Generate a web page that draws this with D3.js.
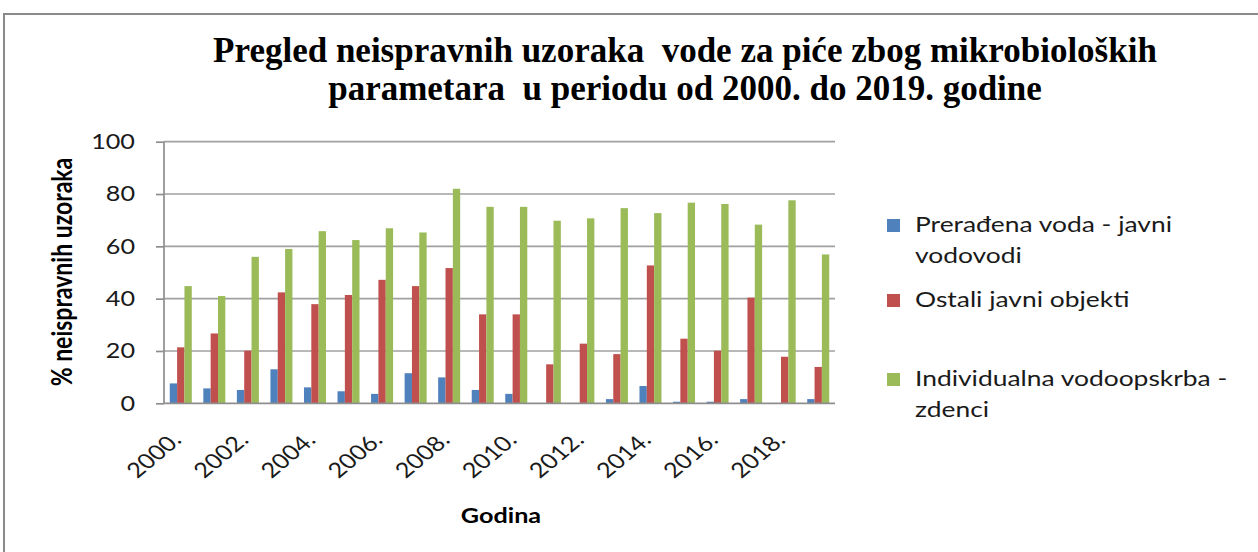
<!DOCTYPE html>
<html>
<head>
<meta charset="utf-8">
<script src="https://cdn.jsdelivr.net/npm/d3@7"></script>
<style>
  html, body { margin: 0; padding: 0; background: #ffffff; }
  svg { display: block; }
</style>
</head>
<body>
<svg id="chart" width="1258" height="552"></svg>
<script>
// Godine (kategorije na osi x)
const years = ["2000.", "2001.", "2002.", "2003.", "2004.", "2005.", "2006.", "2007.", "2008.", "2009.",
               "2010.", "2011.", "2012.", "2013.", "2014.", "2015.", "2016.", "2017.", "2018.", "2019."];
// Oznake koje se ispisuju ispod osi (svaka druga godina)
const xTickLabels = ["2000.", "2002.", "2004.", "2006.", "2008.", "2010.", "2012.", "2014.", "2016.", "2018."];
const yTicks = [0, 20, 40, 60, 80, 100];

// % neispravnih uzoraka po skupinama
const javniVodovodi = [7.6, 5.7, 5.1, 13.0, 6.1, 4.6, 3.6, 11.5, 9.9, 5.1,
                       3.6, 0, 0, 1.6, 6.6, 0.6, 0.6, 1.6, 0, 1.6];
const ostaliObjekti = [21.4, 26.7, 20.1, 42.4, 37.9, 41.4, 47.2, 44.8, 51.7, 34.0,
                       34.0, 14.9, 22.8, 18.8, 52.7, 24.7, 20.1, 40.4, 17.8, 13.9];
const zdenci        = [44.8, 41.0, 56.0, 59.0, 65.8, 62.4, 66.9, 65.3, 82.0, 75.1,
                       75.1, 69.8, 70.7, 74.6, 72.7, 76.7, 76.2, 68.3, 77.6, 56.9];

const seriesKeys = ["vodovodi", "ostali", "zdenci"];
const seriesValues = [javniVodovodi, ostaliObjekti, zdenci];
const legendLines = [
  ["Prerađena voda - javni", "vodovodi"],
  ["Ostali javni objekti"],
  ["Individualna vodoopskrba -", "zdenci"]
];
const seriesColors = ["#4F81BD", "#C0504D", "#9BBB59"];

const titleLines = ["Pregled neispravnih uzoraka  vode za piće zbog mikrobioloških",
                    "parametara  u periodu od 2000. do 2019. godine"];

// ---- layout ----
const SX = 1.2;                    // horizontal stretch of the sans-serif labels
const sansFont = "Lato, 'Open Sans', sans-serif";
const plot = { left: 164, right: 835, top: 141.7, bottom: 403.3 };
const axisColor = "#8e8e8e";

const svg = d3.select("#chart");
svg.append("rect").attr("width", 1258).attr("height", 552).attr("fill", "#ffffff");

// outer frame of the chart object
svg.append("rect")
  .attr("x", 4).attr("y", 14).attr("width", 1300).attr("height", 600)
  .attr("fill", "none").attr("stroke", "#8a8a8a").attr("stroke-width", 2);

// title
svg.append("g").selectAll("text").data(titleLines).join("text")
  .attr("x", 685).attr("y", (d, i) => 62 + i * 38)
  .attr("text-anchor", "middle")
  .style("white-space", "pre")
  .attr("font-family", "'Liberation Serif', 'Times New Roman', serif")
  .attr("font-weight", "bold")
  .attr("font-size", 35)
  .attr("fill", "#000")
  .text(d => d);

// scales
const x0 = d3.scaleBand().domain(years).range([plot.left, plot.right])
  .paddingInner(0.344).paddingOuter(0.172);
const x1 = d3.scaleBand().domain(seriesKeys).range([0, x0.bandwidth()]).padding(0);
const y = d3.scaleLinear().domain([0, 100]).range([plot.bottom, plot.top]);

// gridlines
svg.append("g").selectAll("line").data(yTicks.filter(t => t > 0)).join("line")
  .attr("x1", plot.left).attr("x2", plot.right)
  .attr("y1", d => y(d)).attr("y2", d => y(d))
  .attr("stroke", "#a0a0a0").attr("stroke-width", 1.7);

// bars
const rows = years.map((yr, i) => ({ yr, vals: seriesKeys.map((k, s) => ({ k, s, v: seriesValues[s][i] })) }));
svg.append("g").selectAll("g").data(rows).join("g")
  .attr("transform", d => `translate(${x0(d.yr)},0)`)
  .selectAll("rect").data(d => d.vals).join("rect")
  .attr("x", d => x1(d.k))
  .attr("width", x1.bandwidth())
  .attr("y", d => y(d.v))
  .attr("height", d => y(0) - y(d.v))
  .attr("fill", d => seriesColors[d.s]);

// y axis
const yAxis = d3.axisLeft(y).tickValues(yTicks).tickSize(8).tickPadding(21).tickFormat(d3.format("d"));
const gy = svg.append("g").attr("transform", `translate(${plot.left},0)`).call(yAxis);
gy.select(".domain").attr("stroke", axisColor).attr("stroke-width", 1.7).attr("d", `M0,${plot.top}V${plot.bottom}`);
gy.selectAll(".tick line").attr("stroke", axisColor).attr("stroke-width", 1.7);
gy.selectAll(".tick text")
  .attr("font-family", sansFont).attr("font-size", 21).attr("fill", "#1a1a1a")
  .attr("transform", function () { return `translate(${this.getAttribute("x")},0) scale(${SX},1)`; })
  .attr("x", 0);

// x axis baseline
const xAxis = d3.axisBottom(x0).tickValues(xTickLabels).tickSize(0).tickFormat(d => d);
const gx = svg.append("g").attr("transform", `translate(0,${plot.bottom})`).call(xAxis);
gx.select(".domain").attr("stroke", axisColor).attr("stroke-width", 1.7)
  .attr("d", `M${plot.left},0H${plot.right}`);
gx.selectAll(".tick")
  .attr("transform", d => `translate(${x0(d) + x0.bandwidth() / 2 + 2},0)`);
gx.selectAll(".tick text")
  .attr("font-family", sansFont).attr("font-size", 21).attr("fill", "#1a1a1a")
  .attr("text-anchor", "end")
  .attr("x", 0).attr("y", 0).attr("dy", 0)
  .attr("transform", `translate(0,38) scale(${SX},1) rotate(-45)`);

// axis titles
svg.append("text")
  .attr("transform", `translate(72,272) scale(${SX},1) rotate(-90)`)
  .attr("text-anchor", "middle")
  .attr("font-family", sansFont).attr("font-weight", "bold").attr("font-size", 23)
  .attr("fill", "#000")
  .text("% neispravnih uzoraka");

svg.append("text")
  .attr("transform", `translate(501,523) scale(${SX},1)`)
  .attr("text-anchor", "middle")
  .attr("font-family", sansFont).attr("font-weight", "bold").attr("font-size", 21)
  .attr("fill", "#000")
  .text("Godina");

// legend
const legendBaselines = [232, 307, 386];
const lg = svg.append("g").selectAll("g").data(legendLines).join("g")
  .attr("transform", (d, i) => `translate(887,${legendBaselines[i]})`);
lg.append("rect")
  .attr("x", 0).attr("y", -13).attr("width", 13).attr("height", 13)
  .attr("fill", (d, i) => seriesColors[i]);
lg.selectAll("text").data(d => d).join("text")
  .attr("transform", (d, j) => `translate(28,${j * 31}) scale(${SX},1)`)
  .attr("font-family", sansFont).attr("font-size", 22)
  .attr("fill", "#1a1a1a")
  .text(d => d);
</script>
</body>
</html>
